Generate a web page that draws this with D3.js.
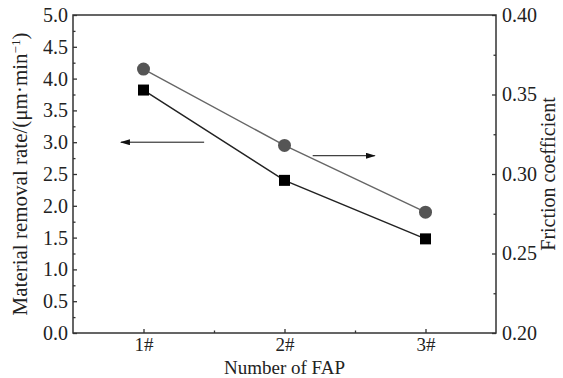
<!DOCTYPE html>
<html>
<head>
<meta charset="utf-8">
<script src="https://cdn.jsdelivr.net/npm/d3@7"></script>
<style>
  body { margin: 0; background: #fff; }
  svg text { font-family: "Liberation Serif", "DejaVu Serif", serif; fill: #222; }
</style>
</head>
<body>
<div class="chart"></div>
<script>
var categories = ["1#", "2#", "3#"];
var removalRate = [3.82, 2.40, 1.48];      // left axis, squares
var friction = [0.366, 0.318, 0.276];      // right axis, circles
var leftTicks = [0, 0.5, 1, 1.5, 2, 2.5, 3, 3.5, 4, 4.5, 5];
var rightTicks = [0.20, 0.25, 0.30, 0.35, 0.40];

var width = 563, height = 378;
var padding = { top: 15, right: 67, bottom: 45, left: 73 };

var svg = d3.select(".chart")
  .append("svg")
    .attr("width", width)
    .attr("height", height);

var x_scale = d3.scaleLinear()
  .domain([0.5, 3.5])
  .range([padding.left, width - padding.right]);

var y_left = d3.scaleLinear()
  .domain([0, 5])
  .range([height - padding.bottom, padding.top]);

var y_right = d3.scaleLinear()
  .domain([0.2, 0.4])
  .range([height - padding.bottom, padding.top]);

var axisColor = "#333";

// minor ticks first
svg.append("g")
  .attr("transform", "translate(" + padding.left + ",0)")
  .call(d3.axisRight(y_left).tickValues(d3.range(0.25, 5, 0.5)).tickSize(2.5).tickFormat(""))
  .call(function(g){ g.select(".domain").remove(); });
svg.append("g")
  .attr("transform", "translate(" + (width - padding.right) + ",0)")
  .call(d3.axisLeft(y_right).tickValues([0.225, 0.275, 0.325, 0.375]).tickSize(2.5).tickFormat(""))
  .call(function(g){ g.select(".domain").remove(); });
svg.append("g")
  .attr("transform", "translate(0," + (height - padding.bottom) + ")")
  .call(d3.axisTop(x_scale).tickValues([1.5, 2.5]).tickSize(2.5).tickFormat(""))
  .call(function(g){ g.select(".domain").remove(); });

// left axis (ticks inside, labels outside)
var gl = svg.append("g")
  .attr("transform", "translate(" + padding.left + ",0)")
  .call(d3.axisRight(y_left).tickValues(leftTicks).tickSize(4).tickFormat(d3.format(".1f")));
gl.selectAll("text").attr("x", -5).attr("text-anchor", "end").attr("font-size", 20);

// right axis
var gr = svg.append("g")
  .attr("transform", "translate(" + (width - padding.right) + ",0)")
  .call(d3.axisLeft(y_right).tickValues(rightTicks).tickSize(4).tickFormat(d3.format(".2f")));
gr.selectAll("text").attr("x", 6).attr("text-anchor", "start").attr("font-size", 20);

// bottom axis
var gb = svg.append("g")
  .attr("transform", "translate(0," + (height - padding.bottom) + ")")
  .call(d3.axisTop(x_scale).tickValues([1, 2, 3]).tickSize(4)
    .tickFormat(function(d){ return categories[d - 1]; }));
gb.selectAll("text").attr("y", 18).attr("dy", 0).attr("font-size", 19);

svg.selectAll(".domain").remove();
svg.selectAll(".tick line").attr("stroke", axisColor).attr("stroke-width", 1.3);
svg.selectAll(".tick text").attr("fill", "#222");

// frame
svg.append("rect")
  .attr("x", padding.left)
  .attr("y", padding.top)
  .attr("width", width - padding.left - padding.right)
  .attr("height", height - padding.top - padding.bottom)
  .attr("fill", "none")
  .attr("stroke", axisColor)
  .attr("stroke-width", 1.5);

// friction line (gray, circles)
var frictionLine = d3.line()
  .x(function(d, i){ return x_scale(i + 1); })
  .y(function(d){ return y_right(d); });
svg.append("path")
  .attr("d", frictionLine(friction))
  .attr("fill", "none")
  .attr("stroke", "#666")
  .attr("stroke-width", 1.4);
svg.selectAll(".circ")
  .data(friction)
  .enter()
  .append("circle")
  .attr("cx", function(d, i){ return x_scale(i + 1); })
  .attr("cy", function(d){ return y_right(d); })
  .attr("r", 6.5)
  .attr("fill", "#555");

// removal rate line (black, squares)
var removalLine = d3.line()
  .x(function(d, i){ return x_scale(i + 1); })
  .y(function(d){ return y_left(d); });
svg.append("path")
  .attr("d", removalLine(removalRate))
  .attr("fill", "none")
  .attr("stroke", "#222")
  .attr("stroke-width", 1.5);
svg.selectAll(".sq")
  .data(removalRate)
  .enter()
  .append("rect")
  .attr("x", function(d, i){ return x_scale(i + 1) - 5.5; })
  .attr("y", function(d){ return y_left(d) - 5.5; })
  .attr("width", 11)
  .attr("height", 11)
  .attr("fill", "#000");

// arrows pointing to the axes
var defs = svg.append("defs");
defs.append("marker")
  .attr("id", "arrow")
  .attr("viewBox", "0 0 10 6")
  .attr("refX", 9).attr("refY", 3)
  .attr("markerWidth", 10).attr("markerHeight", 6)
  .attr("markerUnits", "userSpaceOnUse")
  .attr("orient", "auto")
  .append("path")
  .attr("d", "M0,0 L10,3 L0,6 Z")
  .attr("fill", "#111");

svg.append("line")
  .attr("x1", x_scale(1.43)).attr("x2", x_scale(0.84))
  .attr("y1", y_left(3.0)).attr("y2", y_left(3.0))
  .attr("stroke", "#111").attr("stroke-width", 1)
  .attr("marker-end", "url(#arrow)");
svg.append("line")
  .attr("x1", x_scale(2.2)).attr("x2", x_scale(2.64))
  .attr("y1", y_right(0.3115)).attr("y2", y_right(0.3115))
  .attr("stroke", "#111").attr("stroke-width", 1)
  .attr("marker-end", "url(#arrow)");

// axis titles
var cy = (padding.top + height - padding.bottom) / 2;
svg.append("text")
  .attr("transform", "translate(27," + cy + ") rotate(-90)")
  .attr("text-anchor", "middle")
  .attr("font-size", 21)
  .html('Material removal rate/(μm·min<tspan dy="-7" font-size="13">−1</tspan><tspan dy="7">)</tspan>');

svg.append("text")
  .attr("transform", "translate(555," + cy + ") rotate(-90)")
  .attr("text-anchor", "middle")
  .attr("font-size", 20)
  .text("Friction coefficient");

svg.append("text")
  .attr("x", (padding.left + width - padding.right) / 2)
  .attr("y", 374)
  .attr("text-anchor", "middle")
  .attr("font-size", 19)
  .text("Number of FAP");
</script>
</body>
</html>
